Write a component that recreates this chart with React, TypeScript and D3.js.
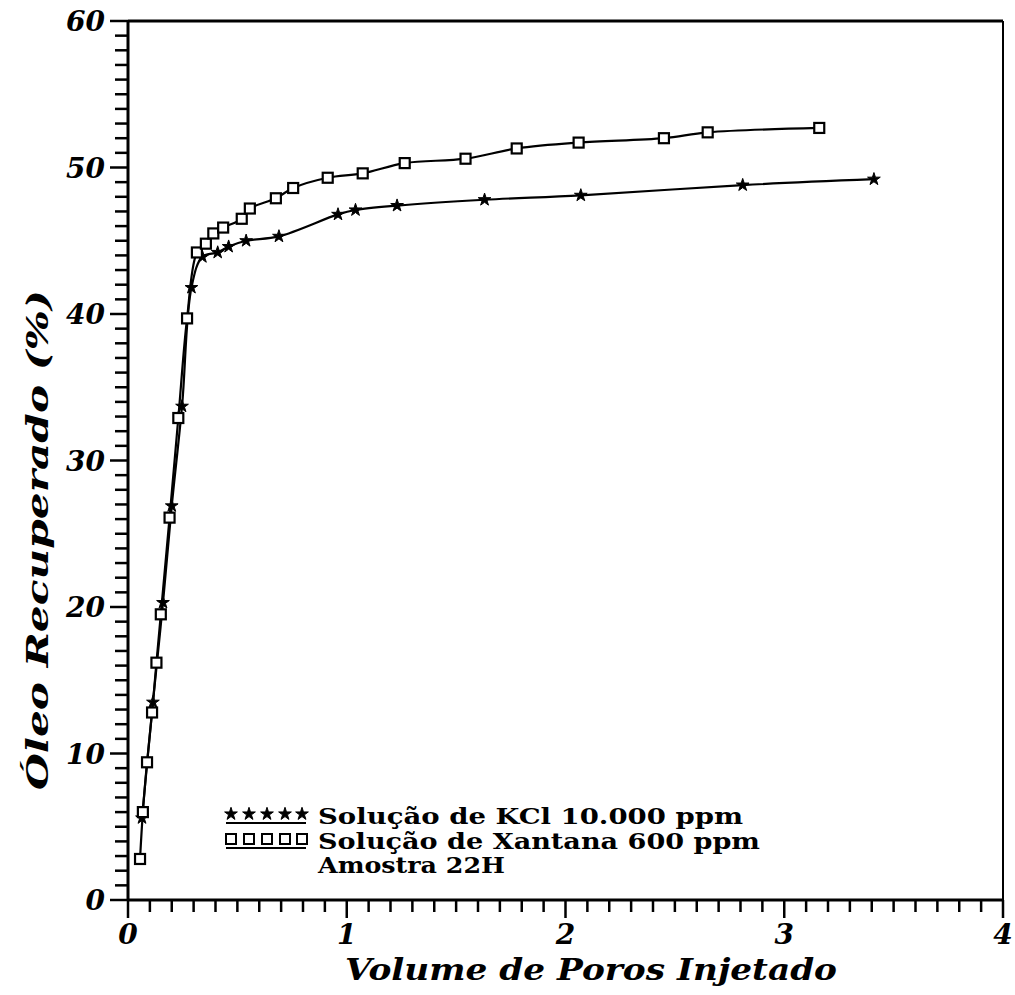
import React from "react";
import * as d3 from "d3";

const kclX = [0.064, 0.114, 0.16, 0.2, 0.247, 0.29, 0.34, 0.41, 0.46, 0.54, 0.69, 0.96, 1.04, 1.23, 1.63, 2.07, 2.81, 3.41];
const kclY = [5.6, 13.5, 20.3, 26.9, 33.7, 41.8, 43.9, 44.2, 44.6, 45.0, 45.3, 46.8, 47.1, 47.4, 47.8, 48.1, 48.8, 49.2];

const xanX = [0.055, 0.068, 0.087, 0.11, 0.13, 0.15, 0.19, 0.23, 0.27, 0.315, 0.356, 0.39, 0.435, 0.52, 0.557, 0.676, 0.755, 0.913, 1.073, 1.265, 1.543, 1.777, 2.06, 2.45, 2.65, 3.16];
const xanY = [2.8, 6.0, 9.4, 12.8, 16.2, 19.5, 26.1, 32.9, 39.7, 44.2, 44.8, 45.5, 45.9, 46.5, 47.2, 47.9, 48.6, 49.3, 49.6, 50.3, 50.6, 51.3, 51.7, 52.0, 52.4, 52.7];

const xTickLabels = ["0", "1", "2", "3", "4"];
const yTickLabels = ["0", "10", "20", "30", "40", "50", "60"];
const legendLabels = ["Solução de KCl 10.000 ppm", "Solução de Xantana 600 ppm", "Amostra 22H"];
const xTitle = "Volume de Poros Injetado";
const yTitle = "Óleo Recuperado (%)";

const W = 1015;
const H = 995;
const x = d3.scaleLinear().domain([0, 4]).range([128, 1003]);
const y = d3.scaleLinear().domain([0, 60]).range([900, 21]);

const line = d3
  .line<[number, number]>()
  .x((d) => x(d[0]))
  .y((d) => y(d[1]))
  .curve(d3.curveCatmullRom.alpha(0.5));

const starPath = d3.symbol().type(d3.symbolStar).size(50)() as string;

const tickFont = "'DejaVu Serif', 'Liberation Serif', serif";

export default function App() {
  const kcl: [number, number][] = kclX.map((v, i) => [v, kclY[i]]);
  const xan: [number, number][] = xanX.map((v, i) => [v, xanY[i]]);
  const xMinor = d3.range(0, 41).map((i) => i / 10);
  const yMinor = d3.range(0, 61);

  const Square = ({ cx, cy }: { cx: number; cy: number }) => (
    <rect x={cx - 5} y={cy - 5} width={10} height={10} fill="white" stroke="black" strokeWidth={2.2} />
  );
  const Star = ({ cx, cy }: { cx: number; cy: number }) => (
    <path d={starPath} transform={`translate(${cx},${cy})`} fill="black" stroke="black" strokeWidth={1} />
  );

  const legX = [231, 249, 267, 285, 302];

  return (
    <svg width={W} height={H} style={{ position: "absolute", left: 0, top: 0, background: "white" }}>
      <rect x={0} y={0} width={W} height={H} fill="white" />
      {/* frame */}
      <line x1={x(0)} x2={x(4)} y1={y(60)} y2={y(60)} stroke="black" strokeWidth={3} />
      <line x1={x(4)} x2={x(4)} y1={y(60)} y2={y(0)} stroke="black" strokeWidth={2} />
      <line x1={x(0)} x2={x(4)} y1={y(0)} y2={y(0)} stroke="black" strokeWidth={3} />
      <line x1={x(0)} x2={x(0)} y1={y(60)} y2={y(0)} stroke="black" strokeWidth={3} />
      {/* x ticks */}
      {xMinor.map((v, i) => (
        <line key={"xt" + i} x1={x(v)} x2={x(v)} y1={y(0)} y2={y(0) + (i % 10 === 0 ? 18 : 12)} stroke="black" strokeWidth={2.5} />
      ))}
      {/* y ticks */}
      {yMinor.map((v, i) => (
        <line key={"yt" + i} x1={x(0)} x2={x(0) - (i % 10 === 0 ? 18 : 13)} y1={y(v)} y2={y(v)} stroke="black" strokeWidth={2.5} />
      ))}
      {xTickLabels.map((t, i) => (
        <text key={"xl" + i} x={x(+t)} y={944} textAnchor="middle" fontFamily={tickFont} fontStyle="italic" fontWeight="bold" fontSize={28}>
          {t}
        </text>
      ))}
      {yTickLabels.map((t, i) => (
        <text key={"yl" + i} x={105} y={y(+t) + 10} textAnchor="end" fontFamily={tickFont} fontStyle="italic" fontWeight="bold" fontSize={28}>
          {t}
        </text>
      ))}
      {/* titles */}
      <text x={591} y={980} textAnchor="middle" fontFamily={tickFont} fontStyle="italic" fontWeight="bold" fontSize={30} textLength={492} lengthAdjust="spacingAndGlyphs">
        {xTitle}
      </text>
      <text
        transform={`translate(48,${540}) rotate(-90)`}
        textAnchor="middle"
        fontFamily={tickFont}
        fontStyle="italic"
        fontWeight="bold"
        fontSize={30}
        textLength={500}
        lengthAdjust="spacingAndGlyphs"
      >
        {yTitle}
      </text>
      {/* series */}
      <path d={line(kcl) as string} fill="none" stroke="black" strokeWidth={2.2} />
      <path d={line(xan) as string} fill="none" stroke="black" strokeWidth={2.2} />
      {kcl.map((d, i) => (
        <Star key={"s" + i} cx={x(d[0])} cy={y(d[1])} />
      ))}
      {xan.map((d, i) => (
        <Square key={"q" + i} cx={x(d[0])} cy={y(d[1])} />
      ))}
      {/* legend */}
      {legX.map((lx, i) => (
        <Star key={"ls" + i} cx={lx} cy={814} />
      ))}
      <line x1={226} x2={306} y1={823} y2={823} stroke="black" strokeWidth={2} />
      {legX.map((lx, i) => (
        <rect key={"lq" + i} x={lx - 5} y={834} width={10} height={10} fill="white" stroke="black" strokeWidth={2} />
      ))}
      <line x1={226} x2={306} y1={848} y2={848} stroke="black" strokeWidth={2} />
      {legendLabels.map((t, i) => (
        <text
          key={"lt" + i}
          x={318}
          y={824 + i * 24.5}
          fontFamily={tickFont}
          fontWeight="bold"
          fontSize={22}
          textLength={t.length * 17}
          lengthAdjust="spacingAndGlyphs"
        >
          {t}
        </text>
      ))}
    </svg>
  );
}
